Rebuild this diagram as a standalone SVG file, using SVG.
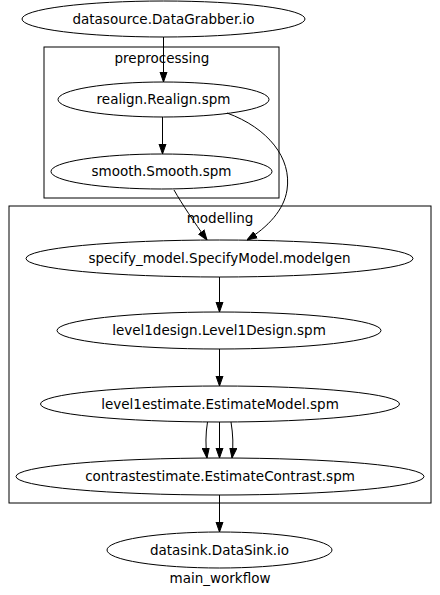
<svg xmlns="http://www.w3.org/2000/svg" width="440" height="595" viewBox="0 0 440 595">
<style>
.n ellipse{fill:none;stroke:#000;stroke-width:1}
.c rect{fill:none;stroke:#000;stroke-width:1}
text{font-family:"DejaVu Sans",sans-serif;font-size:13.5px;fill:#000;text-anchor:middle}
.e path{fill:none;stroke:#000;stroke-width:1}
</style>
<defs>
<marker id="ah" markerWidth="10" markerHeight="10" refX="10" refY="5" orient="auto" markerUnits="userSpaceOnUse">
<path d="M0,1.5 L10,5 L0,8.5 Z" fill="#000" stroke="#000" stroke-width="1"/>
</marker>
</defs>
<rect width="440" height="595" fill="#fff"/>
<g id="cluster_preprocessing" class="c">
<rect x="44" y="47" width="235" height="151"/>
<text x="162" y="63">preprocessing</text>
</g>
<g id="cluster_modelling" class="c">
<rect x="9" y="206" width="422" height="297"/>
<text x="220" y="223">modelling</text>
</g>
<g id="connectors" class="e">
<path d="M163.5,37 L163.5,82" marker-end="url(#ah)"/>
<path d="M162.5,117 L162.5,154" marker-end="url(#ah)"/>
<path d="M174,190 C182,204 194,222 207,240" marker-end="url(#ah)"/>
<path d="M227,113 C268,128 292,158 287,190 C284,210 268,227 247,240" marker-end="url(#ah)"/>
<path d="M219.5,277 L219.5,312" marker-end="url(#ah)"/>
<path d="M219.5,349 L219.5,386" marker-end="url(#ah)"/>
<path d="M207.5,422 C205.5,434 205.5,446 207,458" marker-end="url(#ah)"/>
<path d="M219.5,422 L219.5,458" marker-end="url(#ah)"/>
<path d="M231,422 C233,434 233.5,446 232,458" marker-end="url(#ah)"/>
<path d="M219.5,495 L219.5,532" marker-end="url(#ah)"/>
</g>
<g id="datasource" class="n">
<ellipse cx="163.5" cy="19" rx="141.5" ry="18"/>
<text x="163.5" y="24">datasource.DataGrabber.io</text>
</g>
<g id="realign" class="n">
<ellipse cx="163.5" cy="99.5" rx="105.5" ry="17.5"/>
<text x="163.5" y="104">realign.Realign.spm</text>
</g>
<g id="smooth" class="n">
<ellipse cx="161.5" cy="171.5" rx="110.5" ry="17.5"/>
<text x="161.5" y="176">smooth.Smooth.spm</text>
</g>
<g id="specify_model" class="n">
<ellipse cx="219.5" cy="258.5" rx="193.5" ry="18.5"/>
<text x="219.5" y="263">specify_model.SpecifyModel.modelgen</text>
</g>
<g id="level1design" class="n">
<ellipse cx="219" cy="330.5" rx="162" ry="18.5"/>
<text x="219" y="335">level1design.Level1Design.spm</text>
</g>
<g id="level1estimate" class="n">
<ellipse cx="220" cy="404" rx="179.5" ry="18"/>
<text x="220" y="408.5">level1estimate.EstimateModel.spm</text>
</g>
<g id="contrastestimate" class="n">
<ellipse cx="220" cy="476.5" rx="204" ry="18.5"/>
<text x="220" y="481">contrastestimate.EstimateContrast.spm</text>
</g>
<g id="datasink" class="n">
<ellipse cx="219.5" cy="550" rx="112.5" ry="18"/>
<text x="219.5" y="554.5">datasink.DataSink.io</text>
</g>
<text x="220" y="583">main_workflow</text>
</svg>
